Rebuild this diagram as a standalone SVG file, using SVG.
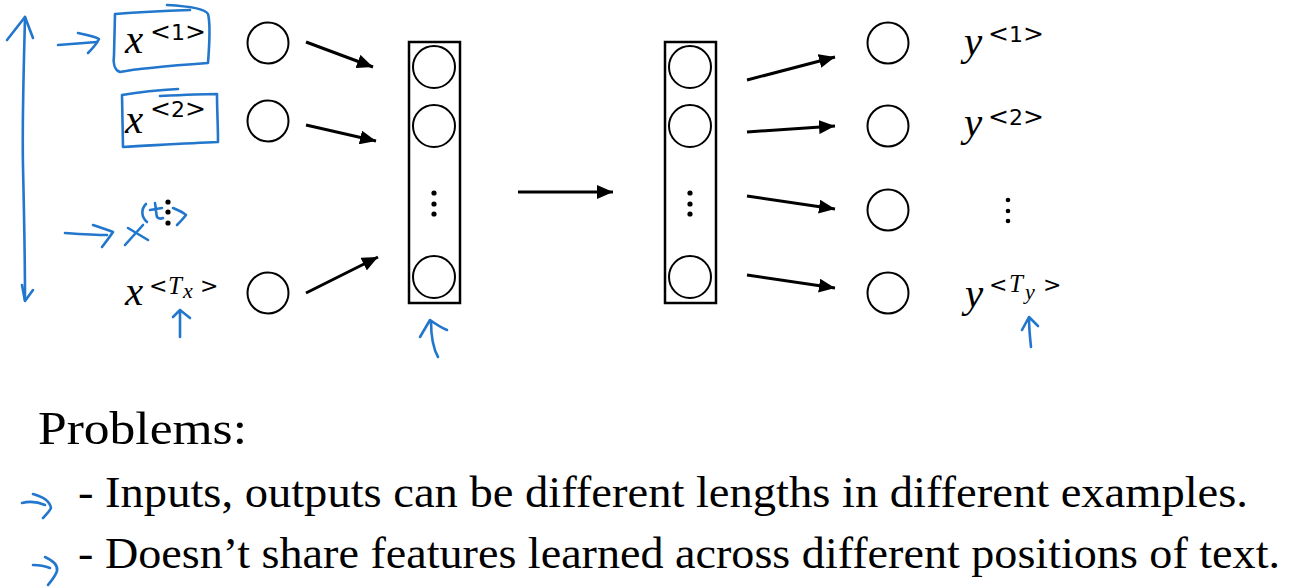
<svg xmlns="http://www.w3.org/2000/svg" width="1290" height="588" viewBox="0 0 1290 588">
<style>
.c{fill:#fff;stroke:#000;stroke-width:2}
.box{fill:none;stroke:#000;stroke-width:2.5}
.ar{stroke:#000;stroke-width:3;fill:none;marker-end:url(#ah)}
.ink{fill:none;stroke:#2277cc;stroke-width:2.6;stroke-linecap:round;stroke-linejoin:round}
.dot{fill:#000}
.mi{font-family:"Liberation Serif",serif;font-style:italic;font-size:41px;fill:#000}
.sup{font-family:"DejaVu Sans",sans-serif;font-size:25px;fill:#000}
.sup2{font-family:"DejaVu Sans",sans-serif;font-size:22px;fill:#000}
.dg{font-size:22px}
.supi{font-family:"Liberation Serif",serif;font-style:italic;font-size:25px;fill:#000}
.subi{font-family:"Liberation Serif",serif;font-style:italic;font-size:22px;fill:#000}
.cm{font-family:"Liberation Serif","Times New Roman",serif;fill:#000}
</style>
<defs>
<marker id="ah" markerUnits="userSpaceOnUse" markerWidth="18" markerHeight="14" refX="16" refY="7" orient="auto">
<path d="M0,0 L16,7 L0,14 Z" fill="#000"/>
</marker>
</defs>
<rect width="1290" height="588" fill="#fff"/>

<g id="inputs">
<g id="x1"><text class="mi" x="125" y="53">x</text><text class="sup" x="150" y="40">&lt;<tspan class="dg">1</tspan>&gt;</text><circle class="c" cx="268" cy="43" r="20.5"/></g>
<g id="x2"><text class="mi" x="125" y="133">x</text><text class="sup" x="150" y="117">&lt;<tspan class="dg">2</tspan>&gt;</text><circle class="c" cx="268" cy="121" r="20.5"/></g>
<g id="xdots"><circle class="dot" cx="168" cy="202" r="2.6"/><circle class="dot" cx="168" cy="212" r="2.6"/><circle class="dot" cx="168" cy="223" r="2.6"/></g>
<g id="xT"><text class="mi" x="125" y="305">x</text><text class="sup2" x="149" y="293">&lt;</text><text class="supi" x="168" y="294">T</text><text class="subi" x="183" y="298">x</text><text class="sup2" x="200" y="293">&gt;</text><circle class="c" cx="268" cy="293" r="20.5"/></g>
</g>

<g id="hidden1">
<rect class="box" x="409" y="42" width="51" height="261"/>
<circle class="c" cx="434" cy="67" r="21"/>
<circle class="c" cx="434" cy="126" r="21"/>
<circle class="c" cx="434" cy="277" r="21"/>
<circle class="dot" cx="434" cy="193" r="2.6"/><circle class="dot" cx="434" cy="204" r="2.6"/><circle class="dot" cx="434" cy="214" r="2.6"/>
</g>

<g id="hidden2">
<rect class="box" x="665" y="42" width="51" height="261"/>
<circle class="c" cx="690" cy="67" r="21"/>
<circle class="c" cx="690" cy="126" r="21"/>
<circle class="c" cx="690" cy="277" r="21"/>
<circle class="dot" cx="690" cy="193" r="2.6"/><circle class="dot" cx="690" cy="204" r="2.6"/><circle class="dot" cx="690" cy="214" r="2.6"/>
</g>

<g id="outputs">
<g id="y1"><circle class="c" cx="888" cy="43" r="20.5"/><text class="mi" x="964" y="55">y</text><text class="sup" x="988" y="42">&lt;<tspan class="dg">1</tspan>&gt;</text></g>
<g id="y2"><circle class="c" cx="888" cy="126" r="20.5"/><text class="mi" x="964" y="136">y</text><text class="sup" x="988" y="125">&lt;<tspan class="dg">2</tspan>&gt;</text></g>
<g id="y3"><circle class="c" cx="888" cy="210" r="20.5"/><circle class="dot" cx="1008" cy="200" r="2.3"/><circle class="dot" cx="1008" cy="211" r="2.3"/><circle class="dot" cx="1008" cy="221" r="2.3"/></g>
<g id="yT"><circle class="c" cx="888" cy="293" r="20.5"/><text class="mi" x="965" y="307">y</text><text class="sup2" x="989" y="292">&lt;</text><text class="supi" x="1009" y="292">T</text><text class="subi" x="1025" y="299">y</text><text class="sup2" x="1043" y="292">&gt;</text></g>
</g>

<g id="connectors">
<line class="ar" x1="306" y1="42" x2="373" y2="67"/>
<line class="ar" x1="306" y1="125" x2="376" y2="141"/>
<line class="ar" x1="306" y1="293" x2="378" y2="257"/>
<line class="ar" x1="518" y1="192" x2="613" y2="192"/>
<line class="ar" x1="747" y1="80" x2="835" y2="57"/>
<line class="ar" x1="747" y1="132" x2="835" y2="126"/>
<line class="ar" x1="747" y1="196" x2="835" y2="209"/>
<line class="ar" x1="747" y1="275" x2="835" y2="288"/>
</g>

<g id="annotations">
<path class="ink" d="M25,17 C24,60 22,120 23,167 C24,210 25,260 25,300"/>
<path class="ink" d="M7,40 L25,17 L33,38"/>
<path class="ink" d="M22,285 L25,301 L33,290"/>
<path class="ink" d="M58,45 C72,44 85,43 97,42"/>
<path class="ink" d="M78,33 C88,35 96,37 99,39 C96,45 92,49 88,53"/>
<path class="ink" d="M167,5 C185,6 205,8 208,14 C211,25 209,50 208,63 C180,65 140,68 120,72 C114,70 113,62 114,55 L115,14 C140,12 160,11 190,10"/>
<path class="ink" d="M178,89 C160,90 140,92 122,95 L123,147 C160,145 190,143 218,142 C218,125 217,110 217,94 C200,94 180,95 160,96"/>
<path class="ink" d="M65,233 C80,234 95,235 107,235"/>
<path class="ink" d="M93,225 C102,228 108,230 113,232 C109,238 105,243 102,247"/>
<path class="ink" d="M125,245 L143,225 M128,228 L148,240"/>
<path class="ink" d="M146,204 C141,209 141,217 147,222"/>
<path class="ink" d="M155,203 C156,208 156,214 157,217 C159,219 161,219 163,218 M150,210 L162,208"/>
<path class="ink" d="M173,208 C178,210 183,212 186,215 C183,219 180,222 177,225"/>
<path class="ink" d="M180,337 C180,328 180,318 180,310 M173,317 L180,310 L190,318"/>
<path class="ink" d="M438,357 C433,348 431,338 431,321 M420,337 L430,320 C437,325 442,328 447,330"/>
<path class="ink" d="M1031,347 C1030,338 1029,328 1029,317 M1022,330 L1029,317 L1038,326"/>
<path class="ink" d="M22,503 C30,501 38,502 45,505"/>
<path class="ink" d="M33,494 C44,497 50,502 51,508 C49,512 46,515 43,518"/>
<path class="ink" d="M33,565 C39,565 45,566 50,568"/>
<path class="ink" d="M45,557 C54,561 58,566 57,571 C55,577 51,581 48,585"/>
</g>

<g id="problems">
<text class="cm" x="38" y="444" font-size="47" textLength="209" lengthAdjust="spacingAndGlyphs">Problems:</text>
<text class="cm" x="78" y="507" font-size="44" textLength="1170" lengthAdjust="spacingAndGlyphs">- Inputs, outputs can be different lengths in different examples.</text>
<text class="cm" x="78" y="568" font-size="44" textLength="1202" lengthAdjust="spacingAndGlyphs">- Doesn’t share features learned across different positions of text.</text>
</g>
</svg>
